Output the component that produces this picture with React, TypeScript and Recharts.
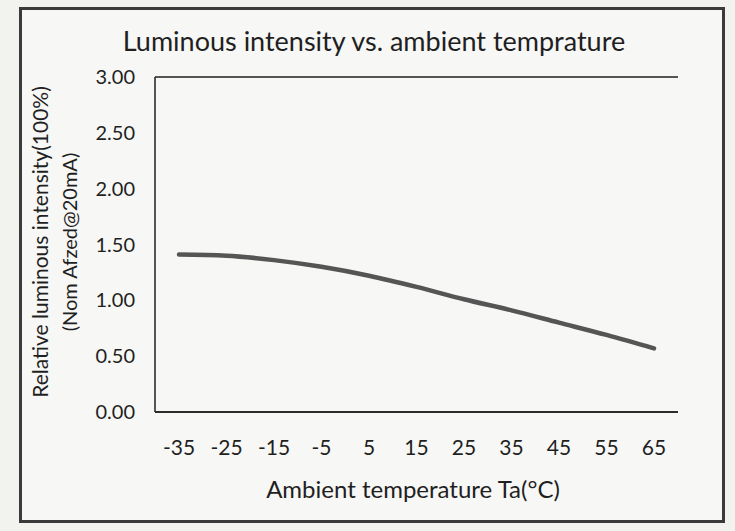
import { CartesianGrid, Line, LineChart, XAxis, YAxis } from 'recharts'

const temps = ['-35', '-25', '-15', '-5', '5', '15', '25', '35', '45', '55', '65']
const intensity = [1.41, 1.4, 1.36, 1.3, 1.22, 1.12, 1.01, 0.91, 0.8, 0.69, 0.57]
const yTicks = [0, 0.5, 1, 1.5, 2, 2.5, 3]

const chartData = temps.map((t, i) => ({ t, v: intensity[i] }))

const font = 'Lato, "Open Sans", sans-serif'
const ink = '#1f1f1f'

export default function App() {
  return (
    <div
      style={{
        position: 'absolute',
        left: 0,
        top: 0,
        width: 735,
        height: 531,
        background: '#f2f2ef',
        fontFamily: font,
      }}
    >
      <div
        style={{
          position: 'absolute',
          left: 19,
          top: 7,
          width: 700,
          height: 510,
          border: '3px solid #3a3a3a',
          background: '#f7f7f5',
        }}
      />
      <LineChart
        width={735}
        height={531}
        data={chartData}
        margin={{ top: 77, right: 57, bottom: 79, left: 95 }}
        style={{ position: 'absolute', left: 0, top: 0 }}
      >
        <CartesianGrid vertical={false} stroke={ink} strokeWidth={1.5} />
        <XAxis
          dataKey='t'
          height={40}
          padding={{ left: 24, right: 24 }}
          axisLine={{ stroke: ink, strokeWidth: 1.5 }}
          tickLine={false}
          tick={{ fill: ink, fontSize: 21, fontFamily: font }}
          tickMargin={22}
          interval={0}
        />
        <YAxis
          yAxisId='left'
          domain={[0, 3]}
          ticks={yTicks}
          width={60}
          axisLine={{ stroke: ink, strokeWidth: 1.5 }}
          tickLine={false}
          tick={{ fill: ink, fontSize: 20, fontFamily: font }}
          tickMargin={14}
          tickFormatter={(v: number) => v.toFixed(2)}
        />
        <YAxis
          yAxisId='right'
          orientation='right'
          domain={[0, 3]}
          width={0}
          tick={false}
          tickLine={false}
          axisLine={{ stroke: ink, strokeWidth: 1.5 }}
        />
        <Line
          yAxisId='left'
          type='monotone'
          dataKey='v'
          stroke='#555555'
          strokeWidth={4.5}
          strokeLinecap='round'
          dot={false}
          isAnimationActive={false}
        />
      </LineChart>
      <svg
        width={735}
        height={531}
        style={{ position: 'absolute', left: 0, top: 0, pointerEvents: 'none' }}
      >
        <text x={374} y={51} textAnchor='middle' fontSize={27} fill={ink} fontFamily={font}>
          Luminous intensity vs. ambient temprature
        </text>
        <text x={413} y={498} textAnchor='middle' fontSize={24} fill={ink} fontFamily={font}>
          Ambient temperature Ta(°C)
        </text>
        <g transform='translate(48,242) rotate(-90)'>
          <text x={0} y={0} textAnchor='middle' fontSize={21} fill={ink} fontFamily={font}>
            Relative luminous intensity(100%)
          </text>
          <text x={0} y={29} textAnchor='middle' fontSize={20} fill={ink} fontFamily={font}>
            (Nom Afzed@20mA)
          </text>
        </g>
      </svg>
    </div>
  )
}
